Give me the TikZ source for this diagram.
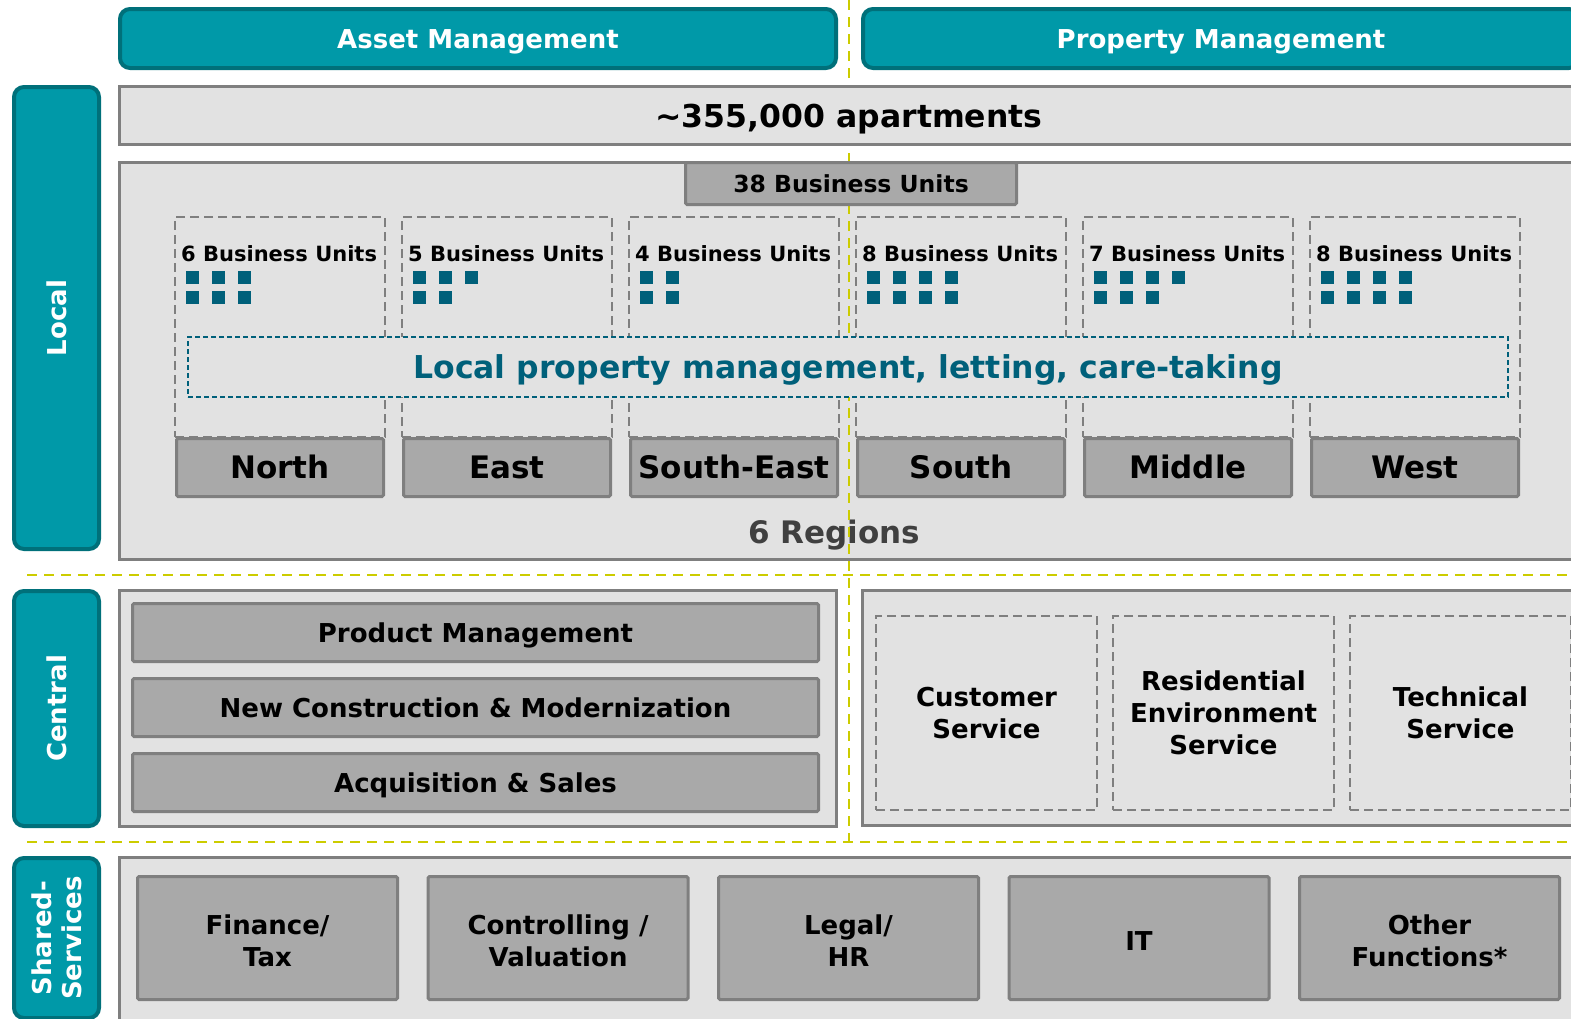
\documentclass[tikz,border=0pt]{standalone}
\usepackage{fontspec}
\setmainfont{DejaVu Sans}
\usetikzlibrary{positioning}

\definecolor{tealfill}{RGB}{0,153,168}
\definecolor{tealline}{RGB}{0,112,122}
\definecolor{tealdark}{RGB}{0,96,122}
\definecolor{boxlight}{RGB}{226,226,226}
\definecolor{boxmid}{RGB}{169,169,169}
\definecolor{boxline}{RGB}{127,127,127}
\definecolor{regiontext}{RGB}{64,64,64}
\definecolor{guideline}{RGB}{204,204,0}

\newcommand{\fsz}[2]{\fontsize{#1}{#2}\selectfont\bfseries}

\begin{document}
\begin{tikzpicture}[
x=1pt, y=-1pt,
band/.style={
  draw=tealline,
  fill=tealfill,
  line width=4pt,
  rounded corners=10pt,
  text=white,
  inner sep=0pt,
  font=\fsz{26}{30}
  },
panel/.style={
  draw=boxline,
  fill=boxlight,
  line width=3pt,
  inner sep=0pt
  },
block/.style={
  draw=boxline,
  fill=boxmid,
  line width=3pt,
  rounded corners=1.5pt,
  inner sep=0pt,
  align=center
  },
unitbox/.style={
  draw=boxline,
  line width=2pt,
  dash pattern=on 9pt off 5pt,
  inner sep=0pt,
  minimum width=210,
  minimum height=220
  },
servicebox/.style={
  draw=boxline,
  line width=2pt,
  dash pattern=on 9pt off 5pt,
  inner sep=0pt,
  minimum width=221,
  minimum height=194,
  align=center,
  font=\fsz{26}{32}
  },
capline/.style={
  text height=#1,
  text depth=0pt
  },
tile/.style={
  fill=tealdark,
  minimum size=13pt,
  inner sep=0pt
  },
guide/.style={
  draw=guideline,
  line width=2.5pt,
  dash pattern=on 10pt off 7pt
  }
]

\useasboundingbox (0,0) rectangle (1571,1018);
\clip (0,0) rectangle (1571,1018);

% column headers
\node[band, capline=19pt, minimum width=716, minimum height=59] (asset) at (478,38.5) {Asset Management};
\node[band, capline=19pt, minimum width=716, minimum height=59] (property) at (1221,38.5) {Property Management};

% row labels
\node[band, rotate=90, minimum width=462, minimum height=85] (local) at (56.5,318) {Local};
\node[band, rotate=90, minimum width=235, minimum height=85] (central) at (56.5,708.5) {Central};
\node[band, rotate=90, minimum width=160, minimum height=85, align=center] (shared) at (56.5,938) {Shared-\\Services};

% local level
\node[panel, minimum width=1459, minimum height=397] (regionpanel) at (849,361) {};
\node[text=regiontext, inner sep=0pt, capline=23pt, font=\fsz{31}{36}] (regions) at (834,531.5) {6 Regions};

% guide lines
\coordinate (gtop) at (849,0);
\coordinate (gbot) at (849,850);
\coordinate (gupl) at (27,575);
\coordinate (gupr) at (1571,575);
\coordinate (glowl) at (27,842);
\coordinate (glowr) at (1571,842);
\draw[guide] (gupl) -- (gupr);
\draw[guide] (glowl) -- (glowr);
\draw[guide] (gtop) -- (gbot);

\node[panel, minimum width=1459, minimum height=58, capline=23pt, font=\fsz{31.5}{36}] (apartments) at (849,115.5) {\textasciitilde355,000 apartments};
\node[block, minimum width=331, minimum height=42, capline=17pt, font=\fsz{23.5}{28}] (units) at (851,183.5) {38 Business Units};

\foreach \n [count=\i] in {6,5,4,8,7,8}
{
  \node[unitbox] (unit\i) at ({280+227*(\i-1)},327) {};
  \node[anchor=base west, inner sep=0pt, font=\fsz{21}{25}] (count\i) at ({181+227*(\i-1)},261) {\n\ Business Units};
}
\foreach \a/\b [count=\i] in {3/3,3/2,2/2,4/4,4/3,4/4}
{
  \foreach \k in {1,...,\a}
    \node[tile] (tile\i-1-\k) at ({192.5+227*(\i-1)+26*(\k-1)},277.5) {};
  \foreach \k in {1,...,\b}
    \node[tile] (tile\i-2-\k) at ({192.5+227*(\i-1)+26*(\k-1)},297.5) {};
}

\node[draw=tealdark, fill=boxlight, line width=1.5pt, dash pattern=on 5pt off 3pt,
  minimum width=1320, minimum height=60, inner sep=0pt, text=tealdark, capline=23pt,
  font=\fsz{31.5}{36}] (caretaking) at (848,367) {Local property management, letting, care-taking};

\foreach \m [count=\i] in {North,East,South-East,South,Middle,West}
  \node[block, minimum width=207, minimum height=58, capline=22.6pt, font=\fsz{31}{36}] (region\i) at ({280+227*(\i-1)},467.5) {\m};

% central level
\node[panel, minimum width=717, minimum height=236] (centralleft) at (478,708.5) {};
\foreach \t [count=\i] in {Product Management,New Construction \& Modernization,Acquisition \& Sales}
  \node[block, minimum width=686, minimum height=58, capline=19pt, font=\fsz{26}{32}] (cblock\i) at (475.5,{632.5+75*(\i-1)}) {\t};

\node[panel, minimum width=717, minimum height=235] (centralright) at (1221,708) {};
\foreach \t [count=\i] in {{Customer\\Service},{Residential\\Environment\\Service},{Technical\\Service}}
  \node[servicebox] (service\i) at ({986.5+237*(\i-1)},713) {\t};

% shared services
\node[panel, minimum width=1459, minimum height=181] (sharedpanel) at (849,948) {};
\foreach \t [count=\i] in {{Finance/\\Tax},{Controlling /\\Valuation},{Legal/\\HR},{IT},{Other\\Functions*}}
  \node[block, minimum width=260, minimum height=123, font=\fsz{26}{32}] (sblock\i) at ({267.5+290.5*(\i-1)},938) {};
\foreach \t [count=\i] in {{Finance/\\Tax},{Controlling /\\Valuation},{Legal/\\HR},{IT},{Other\\Functions*}}
  \node[align=center, inner sep=0pt, font=\fsz{26}{32}] (sname\i) at ([yshift=-3pt]sblock\i.center) {\t};
\end{tikzpicture}
\end{document}
